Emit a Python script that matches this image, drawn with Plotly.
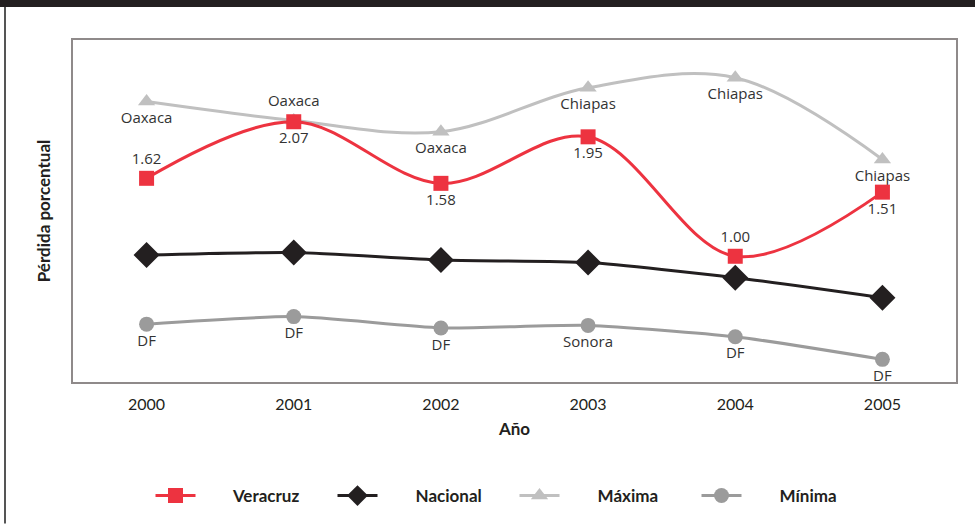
import plotly.graph_objects as go

years = ["2000", "2001", "2002", "2003", "2004", "2005"]
veracruz = [1.62, 2.07, 1.58, 1.95, 1.00, 1.51]
nacional = [1.01, 1.03, 0.97, 0.95, 0.83, 0.67]
maxima = [2.23, 2.08, 1.99, 2.34, 2.42, 1.77]
minima = [0.46, 0.52, 0.43, 0.45, 0.36, 0.18]
maxima_states = ["Oaxaca", "Oaxaca", "Oaxaca", "Chiapas", "Chiapas", "Chiapas"]
minima_states = ["DF", "DF", "DF", "Sonora", "DF", "DF"]
veracruz_labels = ["1.62", "2.07", "1.58", "1.95", "1.00", "1.51"]
legend_names = ["Veracruz", "Nacional", "Máxima", "Mínima"]

RED = "#ED3340"
BLACK = "#231F20"
LGRAY = "#C0C0C0"
MGRAY = "#9B9B9B"
TXT = "#333333"
FONT = "Open Sans"
COND = "Lato"
PAD = "\u00a0" * 8

fig = go.Figure()

fig.add_trace(go.Scatter(
    x=years, y=maxima, name=PAD + legend_names[2], legendrank=3,
    mode="lines+markers+text",
    line=dict(color=LGRAY, width=3, shape="spline", smoothing=1.0),
    marker=dict(symbol="triangle-up", size=15, color=LGRAY),
    text=maxima_states,
    textposition=["bottom center", "top center", "bottom center",
                  "bottom center", "bottom center", "bottom center"],
    textfont=dict(family=FONT, size=15, color=TXT),
))
fig.add_trace(go.Scatter(
    x=years, y=minima, name=PAD + legend_names[3], legendrank=4,
    mode="lines+markers+text",
    line=dict(color=MGRAY, width=3, shape="spline", smoothing=0.6),
    marker=dict(symbol="circle", size=15, color=MGRAY),
    text=minima_states, textposition="bottom center",
    textfont=dict(family=FONT, size=15, color=TXT),
))
fig.add_trace(go.Scatter(
    x=years, y=nacional, name=PAD + legend_names[1], legendrank=2,
    mode="lines+markers",
    line=dict(color=BLACK, width=3, shape="spline", smoothing=0.6),
    marker=dict(symbol="diamond", size=20, color=BLACK),
))
fig.add_trace(go.Scatter(
    x=years, y=veracruz, name=PAD + legend_names[0], legendrank=1,
    mode="lines+markers+text",
    line=dict(color=RED, width=3, shape="spline", smoothing=1.0),
    marker=dict(symbol="square", size=15, color=RED),
    text=veracruz_labels,
    textposition=["top center", "bottom center", "bottom center",
                  "bottom center", "top center", "bottom center"],
    textfont=dict(family=FONT, size=15, color=TXT),
))

PL, PR, PT, PB = 73, 956, 40, 383
W, H = 975, 525

def px_x(p):
    return (p - PL) / (PR - PL)

def px_y(p):
    return (PB - p) / (PB - PT)

fig.update_layout(
    width=W, height=H,
    margin=dict(l=PL, r=W - PR, t=PT, b=H - PB, pad=0),
    paper_bgcolor="white", plot_bgcolor="white",
    font=dict(family=FONT, color=BLACK),
    showlegend=True,
    legend=dict(orientation="h", x=0.5, xanchor="center",
                y=px_y(496), yanchor="middle",
                font=dict(family=COND, size=17, color=BLACK, weight="bold"),
                entrywidth=127, entrywidthmode="pixels", itemwidth=40,
                traceorder="normal"),
    xaxis=dict(type="category", range=[-0.5, 5.5], showgrid=False, zeroline=False,
               showline=True, linecolor="#8F8A8A", linewidth=1.5, mirror=True,
               ticks="", ticklabelstandoff=7,
               tickfont=dict(family=COND, size=16, color=BLACK),
               title=dict(text="Año", font=dict(family=COND, size=17, color=BLACK, weight="bold"),
                          standoff=11)),
    yaxis=dict(range=[0, 2.72], showgrid=False, zeroline=False, showticklabels=False,
               showline=True, linecolor="#8F8A8A", linewidth=1.5, mirror=True, ticks="",
               title=dict(text="Pérdida porcentual",
                          font=dict(family=COND, size=17, color=BLACK, weight="bold"),
                          standoff=16)),
    shapes=[
        dict(type="rect", xref="paper", yref="paper",
             x0=px_x(0), x1=px_x(975), y0=px_y(7), y1=px_y(0),
             fillcolor="#231F20", line=dict(width=0), layer="above"),
        dict(type="line", xref="paper", yref="paper",
             x0=px_x(5), x1=px_x(5), y0=px_y(7), y1=px_y(525),
             line=dict(color="#555555", width=2)),
    ],
)

fig.write_html("out.html", config={"displayModeBar": False},
               post_script="document.body.style.margin='0';")
